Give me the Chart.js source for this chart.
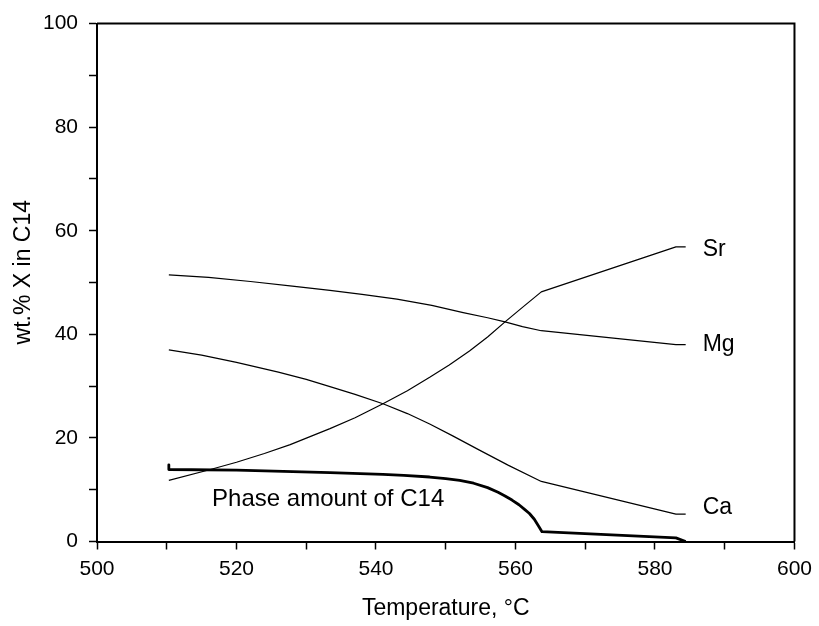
<!DOCTYPE html>
<html>
<head>
<meta charset="utf-8">
<title>C14 composition vs temperature</title>
<script src="https://cdn.jsdelivr.net/npm/chart.js@4.4.1/dist/chart.umd.min.js"></script>
<style>
  html, body { margin: 0; padding: 0; background: #fff; }
  #c14 { display: block; }
</style>
</head>
<body>
<canvas id="c14" width="819" height="626"></canvas>
<script>
// wt.% of each element dissolved in the C14 phase, plus the phase amount
const srTemp = [510.3, 516, 520, 524, 527.7, 533.4, 537, 541, 544.5, 547.7, 550.5, 553.4, 556, 558.5, 561, 563.7, 583, 584.4];
const srVal = [11.8, 13.8, 15.3, 17.0, 18.7, 21.8, 23.9, 26.6, 29.1, 31.7, 34.1, 36.8, 39.5, 42.4, 45.2, 48.2, 56.9, 56.9];

const mgTemp = [510.3, 516, 522, 528, 533.4, 538, 543, 548, 552.5, 556, 558.5, 561, 563.7, 583, 584.4];
const mgVal = [51.5, 51.0, 50.2, 49.3, 48.5, 47.7, 46.8, 45.6, 44.2, 43.2, 42.4, 41.5, 40.7, 38.0, 38.0];

const caTemp = [510.3, 515, 520, 526, 530, 533.4, 537, 541, 544.5, 547.7, 551, 554.9, 559, 563.7, 583, 584.4];
const caVal = [37.0, 36.0, 34.6, 32.7, 31.3, 29.9, 28.4, 26.6, 24.7, 22.7, 20.4, 17.6, 14.7, 11.6, 5.3, 5.3];

const phaseTemp = [510.3, 510.3, 520, 533.4, 541, 544, 547.7, 550, 552, 554, 556, 557.5, 558.5, 559.5, 560.5, 561.3, 562, 562.7, 563.3, 563.8, 583, 584.4];
const phaseVal = [14.8, 13.9, 13.8, 13.3, 12.95, 12.75, 12.45, 12.15, 11.8, 11.25, 10.4, 9.5, 8.8, 8.0, 7.1, 6.2, 5.4, 4.3, 3.0, 1.9, 0.7, 0];

const phaseLabel = "Phase amount of C14";
const xTitle = "Temperature, °C";
const yTitle = "wt.% X in C14";

const FONT = '"Liberation Sans", Arial, Helvetica, sans-serif';
Chart.defaults.font.family = FONT;
Chart.defaults.color = "#000";

const toPoints = (xs, ys) => xs.map((x, i) => ({ x: x, y: ys[i] }));

const curve = (label, xs, ys, width, labelDy) => ({
    label: label,
    data: toPoints(xs, ys),
    borderColor: "#000",
    borderWidth: width,
    borderJoinStyle: "round",
    pointRadius: 0,
    tension: 0,
    fill: false,
    labelDy: labelDy,
});

// top/right frame lines, the y title and the text labels next to the curves
const frameAndLabels = {
    id: "frameAndLabels",
    afterDraw(chart) {
        const { ctx, chartArea: a, scales } = chart;
        const x = scales.x;
        const y = scales.y;
        ctx.save();
        ctx.strokeStyle = "#000";
        ctx.lineWidth = 2;
        ctx.beginPath();
        ctx.moveTo(a.left, a.top);
        ctx.lineTo(a.right, a.top);
        ctx.lineTo(a.right, a.bottom);
        ctx.stroke();

        ctx.fillStyle = "#000";
        ctx.textBaseline = "middle";
        ctx.textAlign = "left";
        ctx.font = "23px " + FONT;
        chart.data.datasets.forEach((ds) => {
            if (ds.labelDy === null) return;
            const last = ds.data[ds.data.length - 1];
            ctx.fillText(
                ds.label,
                x.getPixelForValue(last.x) + 17,
                y.getPixelForValue(last.y) + ds.labelDy
            );
        });

        ctx.font = "24px " + FONT;
        ctx.fillText(phaseLabel, x.getPixelForValue(516.5), y.getPixelForValue(8.2));

        ctx.font = "23px " + FONT;
        ctx.textAlign = "center";
        ctx.translate(24, y.getPixelForValue(52));
        ctx.rotate(-Math.PI / 2);
        ctx.fillText(yTitle, 0, 0);
        ctx.restore();
    },
};

new Chart(document.getElementById("c14"), {
    type: "line",
    data: {
        datasets: [
            curve("Sr", srTemp, srVal, 1.2, 3),
            curve("Mg", mgTemp, mgVal, 1.2, 0),
            curve("Ca", caTemp, caVal, 1.2, -6),
            curve("C14", phaseTemp, phaseVal, 2.8, null),
        ],
    },
    options: {
        responsive: false,
        animation: false,
        layout: {
            padding: { top: 20, right: 23, left: 0, bottom: 0 },
        },
        plugins: {
            legend: { display: false },
            tooltip: { enabled: false },
        },
        scales: {
            x: {
                type: "linear",
                min: 500,
                max: 600,
                afterFit: (scale) => {
                    scale.height = 84.5;
                },
                ticks: {
                    stepSize: 10,
                    autoSkip: false,
                    maxRotation: 0,
                    padding: 7,
                    font: { size: 21 },
                    callback: (v) => (Math.round(v) % 20 === 0 ? Math.round(v) : ""),
                },
                grid: {
                    drawOnChartArea: false,
                    tickLength: 8,
                    tickWidth: 1.5,
                    tickColor: "#000",
                },
                border: { color: "#000", width: 2 },
                title: {
                    display: true,
                    text: xTitle,
                    font: { size: 23 },
                    padding: { top: 0, bottom: 4 },
                },
            },
            y: {
                min: 0,
                max: 100,
                afterFit: (scale) => {
                    scale.width = 97;
                },
                ticks: {
                    stepSize: 10,
                    autoSkip: false,
                    padding: 11,
                    font: { size: 21 },
                    callback: (v) => (Math.round(v) % 20 === 0 ? Math.round(v) : ""),
                },
                grid: {
                    drawOnChartArea: false,
                    tickLength: 8,
                    tickWidth: 1.5,
                    tickColor: "#000",
                },
                border: { color: "#000", width: 2 },
            },
        },
    },
    plugins: [frameAndLabels],
});
</script>
</body>
</html>
